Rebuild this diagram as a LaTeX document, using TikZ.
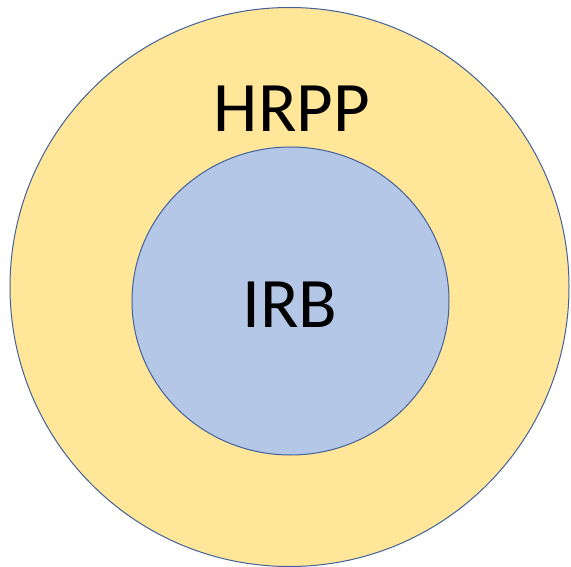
\documentclass[tikz,border=0pt]{standalone}
\usepackage{fontspec}
\setmainfont{Carlito}
\usetikzlibrary{shapes.geometric}
\definecolor{ringgold}{HTML}{FFE699}
\definecolor{ringblue}{HTML}{B4C7E7}
\definecolor{ringline}{HTML}{41609A}

\begin{document}
\begin{tikzpicture}[x=1pt,y=-1pt,
  ring/.style={draw=ringline,line width=1pt,inner sep=0pt},
  label text/.style={inner sep=0pt,text=black,font=\fontsize{71}{85}\selectfont}]
  \useasboundingbox (0,0) rectangle (571,567);
  \node[ring,circle,fill=ringgold,minimum size=559pt] (hrpp) at (289.5,287) {};
  \node[ring,ellipse,fill=ringblue,minimum width=317pt,minimum height=308pt] (irb) at (290.5,301) {};
  \node[label text] (hrpplabel) at (292,108.5) {HRPP};
  \node[label text] (irblabel) at (290,305) {IRB};
\end{tikzpicture}
\end{document}
